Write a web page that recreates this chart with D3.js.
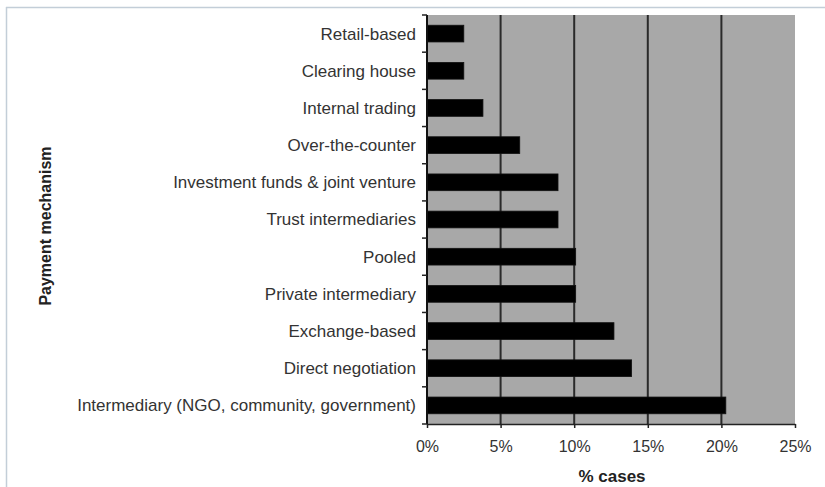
<!DOCTYPE html>
<html>
<head>
<meta charset="utf-8">
<script src="https://cdn.jsdelivr.net/npm/d3@7"></script>
<style>
  html, body { margin: 0; padding: 0; background: #fff; }
  svg { display: block; }
</style>
</head>
<body>
<svg id="chart" width="825" height="487"></svg>
<script>
// Payment mechanisms, top to bottom
const categories = [
  "Retail-based",
  "Clearing house",
  "Internal trading",
  "Over-the-counter",
  "Investment funds & joint venture",
  "Trust intermediaries",
  "Pooled",
  "Private intermediary",
  "Exchange-based",
  "Direct negotiation",
  "Intermediary (NGO, community, government)"
];
// Share of cases (%)
const shares = [2.5, 2.5, 3.8, 6.3, 8.9, 8.9, 10.1, 10.1, 12.7, 13.9, 20.3];
const xTicks = [0, 5, 10, 15, 20, 25];
const xTitle = "% cases";
const yTitle = "Payment mechanism";

const svg = d3.select("#chart");
const font = "Arial, 'Liberation Sans', sans-serif";

// outer frame (top and left edges)
svg.append("line").attr("x1", 6).attr("x2", 825).attr("y1", 7.5).attr("y2", 7.5)
  .attr("stroke", "#c3ced8").attr("stroke-width", 1.5);
svg.append("line").attr("x1", 6.5).attr("x2", 6.5).attr("y1", 7).attr("y2", 487)
  .attr("stroke", "#c3ced8").attr("stroke-width", 1.5);

const plot = { left: 427, right: 795, top: 15, bottom: 424 };

const x = d3.scaleLinear().domain([0, 25]).range([plot.left, plot.right]);
const y = d3.scaleBand().domain(categories).range([plot.top, plot.bottom])
  .paddingInner(0.55).paddingOuter(0.275);

// plot background
svg.append("rect")
  .attr("x", plot.left).attr("y", plot.top)
  .attr("width", plot.right - plot.left).attr("height", plot.bottom - plot.top)
  .attr("fill", "#a8a8a8");

// vertical gridlines
svg.append("g").selectAll("line")
  .data(xTicks.filter(t => t > 0 && t < 25))
  .join("line")
  .attr("x1", d => x(d)).attr("x2", d => x(d))
  .attr("y1", plot.top).attr("y2", plot.bottom)
  .attr("stroke", "#2a2a2a").attr("stroke-width", 2);

// bars
svg.append("g").selectAll("rect")
  .data(categories)
  .join("rect")
  .attr("x", x(0))
  .attr("y", d => y(d))
  .attr("width", (d, i) => x(shares[i]) - x(0))
  .attr("height", y.bandwidth())
  .attr("fill", "#000")
  .attr("stroke", "#111").attr("stroke-width", 0.8);

// x axis
const xAxis = d3.axisBottom(x).tickValues(xTicks).tickFormat(d => d + "%")
  .tickSize(4).tickSizeOuter(0).tickPadding(13);
const gx = svg.append("g").attr("transform", `translate(0,${plot.bottom})`).call(xAxis);
gx.select(".domain").attr("stroke", "#222").attr("stroke-width", 1.5);
gx.selectAll(".tick line").attr("stroke", "#222").attr("stroke-width", 1.5);
gx.selectAll("text").attr("font-family", font).attr("font-size", 16).attr("fill", "#333");

// y axis: labels at band centres, ticks at band boundaries
const boundaries = d3.range(categories.length + 1).map(i => plot.top + i * (plot.bottom - plot.top) / categories.length);
const gy = svg.append("g");
gy.append("line").attr("x1", plot.left).attr("x2", plot.left)
  .attr("y1", plot.top).attr("y2", plot.bottom)
  .attr("stroke", "#111").attr("stroke-width", 2);
gy.selectAll("line.tk").data(boundaries).join("line").attr("class", "tk")
  .attr("x1", plot.left - 5).attr("x2", plot.left)
  .attr("y1", d => d).attr("y2", d => d)
  .attr("stroke", "#222").attr("stroke-width", 1.5);
gy.selectAll("text").data(categories).join("text")
  .attr("x", plot.left - 11)
  .attr("y", d => y(d) + y.bandwidth() / 2)
  .attr("dy", "0.35em")
  .attr("text-anchor", "end")
  .attr("font-family", font).attr("font-size", 17).attr("fill", "#333")
  .text(d => d);

// axis titles
svg.append("text")
  .attr("x", (plot.left + plot.right) / 2 + 1).attr("y", 476)
  .attr("dy", "0.35em")
  .attr("text-anchor", "middle")
  .attr("font-family", font).attr("font-size", 17).attr("font-weight", "bold").attr("fill", "#222")
  .text(xTitle);

svg.append("text")
  .attr("transform", "translate(45,226) rotate(-90)")
  .attr("dy", "0.35em")
  .attr("text-anchor", "middle")
  .attr("font-family", font).attr("font-size", 16).attr("font-weight", "bold").attr("fill", "#222")
  .text(yTitle);
</script>
</body>
</html>
